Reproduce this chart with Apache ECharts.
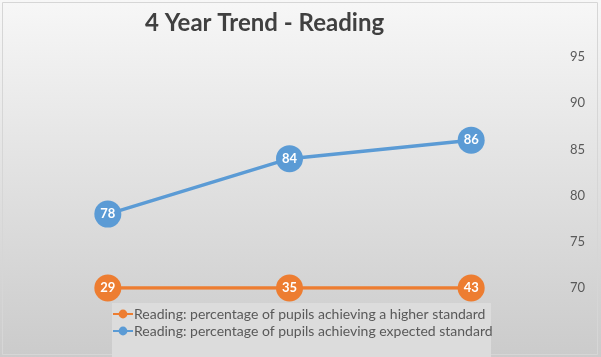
<!DOCTYPE html>
<html><head><meta charset="utf-8">
<script src="https://cdn.jsdelivr.net/npm/echarts@6/dist/echarts.min.js"></script>
<style>html,body{margin:0;padding:0;}#c{width:601px;height:357px;}</style>
</head><body><div id="c"></div>
<script>
var categories = ['Year 1', 'Year 2', 'Year 3'];
var higherValues = [29, 35, 43];
var expectedValues = [78, 84, 86];
var higherName = 'Reading: percentage of pupils achieving a higher standard';
var expectedName = 'Reading: percentage of pupils achieving expected standard';
var yMin = 70, yMax = 95, yInterval = 5;

var chart = echarts.init(document.getElementById('c'));
function clampData(arr){ return arr.map(function(v){ return {value: Math.max(v, yMin), raw: v}; }); }
function lbl(){ return { show: true, position: 'inside', color: '#ffffff', fontWeight: 'bold', fontSize: 13, fontFamily: 'Lato',
  formatter: function(p){ return p.data.raw; } }; }
chart.setOption({
  animation: false,
  backgroundColor: {type:'linear', x:0, y:0, x2:0, y2:1, colorStops:[{offset:0,color:'#f7f7f7'},{offset:1,color:'#cbcbcb'}]},
  title: { text: '4 Year Trend - Reading', left: 140, top: 6,
    textStyle: { fontFamily: 'Lato', fontWeight: 'bold', fontSize: 24, color: '#404040' } },
  graphic: [
    { type: 'rect', shape: {x: 2.5, y: 2.5, width: 595, height: 352}, style: {fill: 'none', stroke: '#d6d6d6', lineWidth: 1}, silent: true, z: 0 },
    { type: 'rect', shape: {x: 112, y: 303, width: 379, height: 54}, style: {fill: '#dcdcdc'}, silent: true, z: 0 }
  ],
  legend: { orient: 'vertical', left: 112, top: 307, itemGap: 3, padding: 0, height: 48,
    itemWidth: 20, itemHeight: 11,
    textStyle: { fontFamily: 'Lato', fontSize: 14, color: '#595959', padding: [0,0,0,-4] },
    data: [higherName, expectedName] },
  grid: { left: 17, right: 39, top: 57, bottom: 69 },
  xAxis: { type: 'category', data: categories, show: false, boundaryGap: true },
  yAxis: { type: 'value', position: 'right', min: yMin, max: yMax, interval: yInterval,
    axisLine: {show: false}, axisTick: {show: false}, splitLine: {show: false},
    axisLabel: { margin: 8, fontFamily: 'Lato', fontSize: 13, color: '#595959' } },
  series: [
    { name: higherName, type: 'line', data: clampData(higherValues), symbol: 'circle', symbolSize: 27, z: 3,
      itemStyle: {color: '#ED7D31'}, lineStyle: {width: 3.5, color: '#ED7D31'}, label: lbl() },
    { name: expectedName, type: 'line', data: clampData(expectedValues), symbol: 'circle', symbolSize: 27, z: 3,
      itemStyle: {color: '#5B9BD5'}, lineStyle: {width: 3.5, color: '#5B9BD5'}, label: lbl() }
  ]
});
</script></body></html>
